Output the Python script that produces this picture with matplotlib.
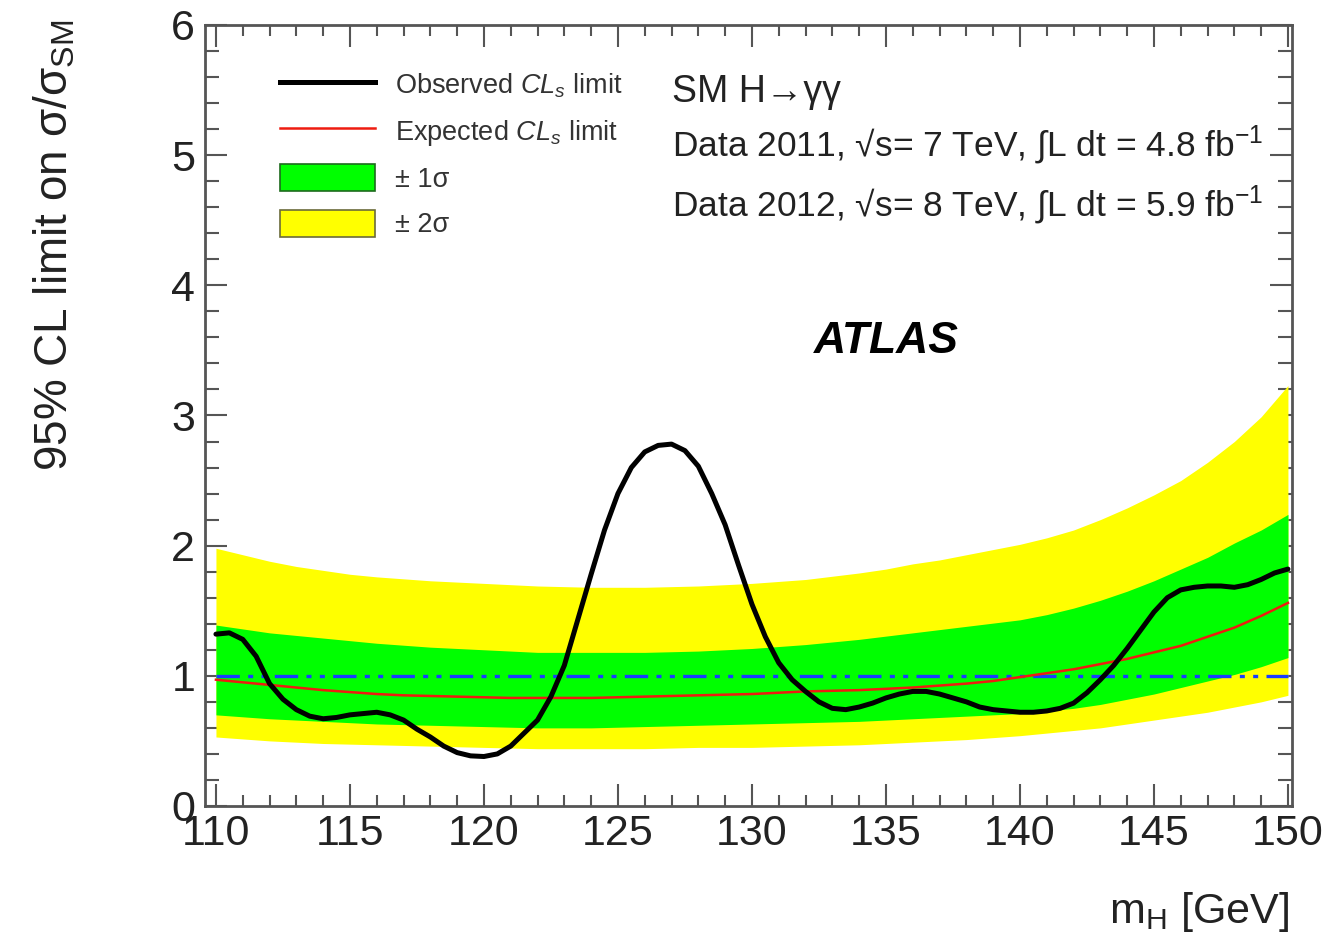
import matplotlib
matplotlib.use("Agg")
import matplotlib.pyplot as plt
from matplotlib.ticker import MultipleLocator
from matplotlib.lines import Line2D
from matplotlib.patches import Patch

plt.rcParams['font.family'] = ['Liberation Sans', 'DejaVu Sans']
plt.rcParams['mathtext.fontset'] = 'custom'
plt.rcParams['mathtext.rm'] = 'Liberation Sans'
plt.rcParams['mathtext.it'] = 'Liberation Sans:italic'
plt.rcParams['mathtext.bf'] = 'Liberation Sans:bold'

# observed CLs limit
obs_mass = [110.0, 110.5, 111.0, 111.5, 112.0, 112.5, 113.0, 113.5, 114.0, 114.5,
            115.0, 115.5, 116.0, 116.5, 117.0, 117.5, 118.0, 118.5, 119.0, 119.5,
            120.0, 120.5, 121.0, 121.5, 122.0, 122.5, 123.0, 123.5, 124.0, 124.5,
            125.0, 125.5, 126.0, 126.5, 127.0, 127.5, 128.0, 128.5, 129.0, 129.5,
            130.0, 130.5, 131.0, 131.5, 132.0, 132.5, 133.0, 133.5, 134.0, 134.5,
            135.0, 135.5, 136.0, 136.5, 137.0, 137.5, 138.0, 138.5, 139.0, 139.5,
            140.0, 140.5, 141.0, 141.5, 142.0, 142.5, 143.0, 143.5, 144.0, 144.5,
            145.0, 145.5, 146.0, 146.5, 147.0, 147.5, 148.0, 148.5, 149.0, 149.5,
            150.0]
obs_limit = [1.32, 1.33, 1.28, 1.15, 0.94, 0.82, 0.74, 0.69, 0.67, 0.68,
             0.70, 0.71, 0.72, 0.70, 0.66, 0.59, 0.53, 0.46, 0.41, 0.385,
             0.38, 0.40, 0.46, 0.56, 0.66, 0.84, 1.08, 1.43, 1.78, 2.12,
             2.40, 2.60, 2.72, 2.77, 2.78, 2.73, 2.61, 2.40, 2.16, 1.85,
             1.55, 1.30, 1.10, 0.97, 0.88, 0.80, 0.75, 0.74, 0.76, 0.79,
             0.83, 0.86, 0.88, 0.88, 0.86, 0.83, 0.80, 0.76, 0.74, 0.73,
             0.72, 0.72, 0.73, 0.75, 0.79, 0.87, 0.97, 1.08, 1.21, 1.35,
             1.49, 1.60, 1.66, 1.68, 1.69, 1.69, 1.68, 1.70, 1.74, 1.79,
             1.82]

# expected limit and bands, 1 GeV steps
exp_mass = list(range(110, 151))
exp_limit = [0.97, 0.95, 0.93, 0.91, 0.89, 0.875, 0.86, 0.85, 0.845, 0.84,
             0.835, 0.83, 0.83, 0.83, 0.83, 0.835, 0.84, 0.845, 0.85, 0.855,
             0.86, 0.87, 0.88, 0.885, 0.89, 0.90, 0.91, 0.925, 0.94, 0.96,
             0.99, 1.02, 1.05, 1.09, 1.13, 1.18, 1.23, 1.30, 1.37, 1.46,
             1.56]
plus2 = [1.98, 1.93, 1.88, 1.84, 1.81, 1.78, 1.76, 1.745, 1.73, 1.72,
         1.71, 1.70, 1.69, 1.685, 1.68, 1.68, 1.68, 1.685, 1.69, 1.70,
         1.71, 1.725, 1.74, 1.765, 1.79, 1.82, 1.86, 1.89, 1.93, 1.97,
         2.01, 2.06, 2.12, 2.20, 2.29, 2.39, 2.50, 2.64, 2.80, 2.99,
         3.23]
plus1 = [1.39, 1.36, 1.33, 1.31, 1.29, 1.27, 1.25, 1.235, 1.22, 1.21,
         1.20, 1.19, 1.18, 1.18, 1.18, 1.18, 1.18, 1.185, 1.19, 1.20,
         1.21, 1.225, 1.24, 1.26, 1.28, 1.305, 1.33, 1.355, 1.38, 1.405,
         1.43, 1.47, 1.52, 1.58, 1.65, 1.73, 1.82, 1.91, 2.02, 2.12,
         2.24]
minus1 = [0.70, 0.685, 0.67, 0.66, 0.65, 0.64, 0.63, 0.625, 0.62, 0.615,
          0.61, 0.605, 0.60, 0.60, 0.60, 0.605, 0.61, 0.615, 0.62, 0.625,
          0.63, 0.635, 0.64, 0.645, 0.65, 0.66, 0.67, 0.68, 0.69, 0.70,
          0.71, 0.73, 0.75, 0.78, 0.82, 0.86, 0.91, 0.96, 1.01, 1.07,
          1.14]
minus2 = [0.53, 0.515, 0.50, 0.49, 0.48, 0.475, 0.47, 0.465, 0.46, 0.455,
          0.45, 0.445, 0.44, 0.44, 0.44, 0.44, 0.44, 0.445, 0.45, 0.45,
          0.45, 0.455, 0.46, 0.465, 0.47, 0.48, 0.49, 0.50, 0.51, 0.525,
          0.54, 0.56, 0.58, 0.60, 0.63, 0.66, 0.69, 0.72, 0.76, 0.80,
          0.85]

sm_line = 1.0

fig = plt.figure(figsize=(13.3, 9.42), dpi=100)
ax = fig.add_axes([0.1541, 0.1444, 0.8173, 0.8291])

ax.fill_between(exp_mass, minus2, plus2, color='#ffff00', lw=0, zorder=1)
ax.fill_between(exp_mass, minus1, plus1, color='#00ff00', lw=0, zorder=1.1)
ax.plot([exp_mass[0], exp_mass[-1]], [sm_line, sm_line], color='#1a3cff', lw=2.4,
        dashes=(7, 2.5, 1.5, 2.5, 1.5, 2.5), zorder=2)
ax.plot(exp_mass, exp_limit, color='#ee1c10', lw=1.8, zorder=3)
ax.plot(obs_mass, obs_limit, color='black', lw=3.6, zorder=4,
        solid_joinstyle='round', solid_capstyle='round')

ax.set_xlim(109.59, 150.15)
ax.set_ylim(0, 6)
ax.set_axisbelow(True)

ax.xaxis.set_major_locator(MultipleLocator(5))
ax.xaxis.set_minor_locator(MultipleLocator(1))
ax.yaxis.set_major_locator(MultipleLocator(1))
ax.yaxis.set_minor_locator(MultipleLocator(0.2))
ax.tick_params(which='both', direction='in', top=True, right=True,
               color='#555555', width=1.5, labelsize=31, labelcolor='#222222')
ax.tick_params(axis='x', which='major', length=16, pad=6)
ax.tick_params(axis='x', which='minor', length=8)
ax.tick_params(axis='y', which='major', length=16, pad=7)
ax.tick_params(axis='y', which='minor', length=10)
for s in ax.spines.values():
    s.set_color('#555555')
    s.set_linewidth(2)

ax.set_ylabel(u"95% CL limit on σ/σ$_{\\mathrm{SM}}$", fontsize=33, color='#222222')
ax.yaxis.label.set_rotation_mode('default')
ax.yaxis.label.set_ha('center')
ax.yaxis.label.set_va('top')
ax.yaxis.set_label_coords(-0.138, 1.0064)
ax.set_xlabel(r"m$_{\mathrm{H}}$ [GeV]", fontsize=31, color='#222222')
ax.xaxis.label.set_ha('right')
ax.xaxis.label.set_va('top')
ax.xaxis.set_label_coords(0.997, -0.1075)

handles = [Line2D([], [], color='black', lw=3.6),
           Line2D([], [], color='#ee1c10', lw=1.8),
           Patch(facecolor='#00ff00', edgecolor='#1d6b1d', lw=1.2),
           Patch(facecolor='#ffff00', edgecolor='#6b6b3a', lw=1.2)]
labels = [r"Observed $CL_{s}$ limit", r"Expected $CL_{s}$ limit",
          u"± 1σ", u"± 2σ"]
leg = ax.legend(handles, labels, loc='upper left', frameon=False,
                bbox_to_anchor=(280 / 1330, 1 - 71 / 942),
                bbox_transform=fig.transFigure, borderaxespad=0, borderpad=0,
                fontsize=19.5, handlelength=3.5, handleheight=1.15,
                handletextpad=0.74, labelspacing=0.62)
for t in leg.get_texts():
    t.set_color('#333333')

ax.text(0.4296, 0.914, u"SM H→γγ", transform=ax.transAxes, fontsize=27,
        ha='left', va='center', color='#222222')
ax.text(0.4296, 0.846, u"Data 2011, √s= 7 TeV, ∫L dt = 4.8 fb$^{\\mathrm{-1}}$",
        transform=ax.transAxes, fontsize=25.5, ha='left', va='center', color='#222222')
ax.text(0.4296, 0.7695, u"Data 2012, √s= 8 TeV, ∫L dt = 5.9 fb$^{\\mathrm{-1}}$",
        transform=ax.transAxes, fontsize=25.5, ha='left', va='center', color='#222222')
ax.text(0.627, 0.595, "ATLAS", transform=ax.transAxes, fontsize=32,
        fontweight='bold', fontstyle='italic', ha='center', va='center')

fig.savefig("out.png", dpi=100)
